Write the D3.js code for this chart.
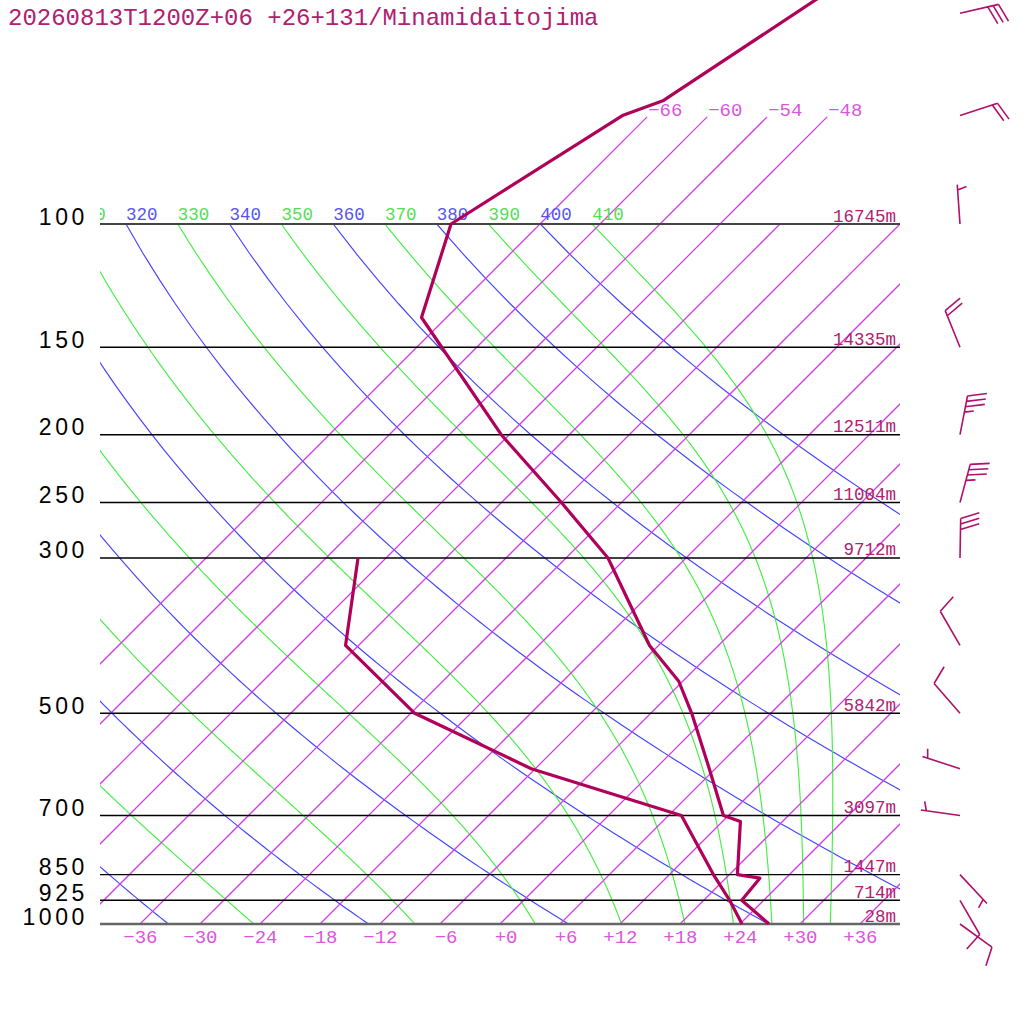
<!DOCTYPE html>
<html>
<head>
<meta charset="utf-8">
<script src="https://cdn.jsdelivr.net/npm/d3@7"></script>
<style>
  body { margin: 0; background: #fff; }
  svg { display: block; }
  text { font-family: "Liberation Mono", "DejaVu Sans Mono", monospace; }
</style>
</head>
<body>
<div id="chart"></div>
<script>
// Skew-T sounding, Minamidaitojima
var svgWidth = 1024;
var svgHeight = 1024;

var plot = { left: 100, right: 900, top: 224, bottom: 924 };

var title = "20260813T1200Z+06 +26+131/Minamidaitojima";

// mandatory levels with a horizontal line
var pressureLevels = [1000, 925, 850, 700, 500, 300, 250, 200, 150, 100];
var heightLabels = ["28m", "714m", "1447m", "3097m", "5842m", "9712m", "11004m", "12511m", "14335m", "16745m"];

// temperature profile (hPa, degC)
var tempP = [1000, 925, 860, 850, 714, 700, 600, 500, 450, 400, 300, 250, 200, 150, 136, 100, 70, 66.6, 45];
var tempT = [26.9, 21.8, 21.4, 18.8, 13.8, 11.5, 5.4, -1.9, -6.4, -12.9, -25.8, -36.0, -48.8, -63.5, -68.5, -74.9, -68.6, -66.0, -59.9];

// dewpoint profile (hPa, degC)
var dewP = [1000, 925, 850, 700, 600, 500, 400, 300];
var dewT = [24.2, 20.6, 16.4, 7.3, -12.4, -29.6, -43.3, -50.8];

// winds (hPa, deg, kt)
var windP = [1000, 925, 850, 700, 600, 500, 400, 300, 250, 200, 150, 100, 70, 50];
var windDir = [126, 150, 137, 278, 288, 319, 330, 1, 15, 11, 338, 356, 72, 77];
var windSpd = [10, 10, 5, 5, 5, 10, 10, 30, 35, 35, 20, 5, 20, 30];

// grid lines and tick labels
var isotherms = [-66, -60, -54, -48, -42, -36, -30, -24, -18, -12, -6, 0, 6, 12, 18, 24, 30, 36];
var bottomTicks = [-36, -30, -24, -18, -12, -6, 0, 6, 12, 18, 24, 30, 36];
var topIsotherms = [-66, -60, -54, -48];
var dryThetas = [240, 260, 280, 300, 320, 340, 360, 380, 400];
var moistThetas = [250, 270, 290, 310, 330, 350, 370, 390, 410];

var svg = d3.select("#chart")
  .append("svg")
  .attr("width", svgWidth)
  .attr("height", svgHeight);

// scales
var yScale = d3.scaleLog().domain([1000, 100]).range([plot.bottom, plot.top]);
var tScale = d3.scaleLinear().domain([-40, 40]).range([plot.left, plot.right]);

function skewX(t, p) {
  return tScale(t) + (yScale(1000) - yScale(p));
}

var K = 273.15;
var kappa = 0.2857;

// pseudo-adiabatic lapse rate dT/dp (K/hPa)
function moistLapse(T, p) {
  var es = 6.112 * Math.exp(17.67 * (T - K) / (T - 29.65));
  var rs = 0.622 * es / (p - es);
  var Lv = 2.501e6, Rd = 287.04, Cp = 1005.7;
  return (Rd * T + Lv * rs) / (p * (Cp + Lv * Lv * rs * 0.622 / (Rd * T * T)));
}

function moistCurve(theta) {
  var p = 100, T = theta * Math.pow(p / 1000, kappa);
  var pts = [[T - K, p]];
  var dp = 2;
  while (p < 1000) {
    var k1 = moistLapse(T, p);
    var k2 = moistLapse(T + k1 * dp / 2, p + dp / 2);
    var k3 = moistLapse(T + k2 * dp / 2, p + dp / 2);
    var k4 = moistLapse(T + k3 * dp, p + dp);
    T += dp * (k1 + 2 * k2 + 2 * k3 + k4) / 6;
    p += dp;
    pts.push([T - K, p]);
  }
  return pts;
}

function dryCurve(theta) {
  return d3.range(100, 1001, 10).map(function(p) {
    return [theta * Math.pow(p / 1000, kappa) - K, p];
  });
}

var curve = d3.line()
  .x(function(d) { return skewX(d[0], d[1]); })
  .y(function(d) { return yScale(d[1]); });

svg.append("clipPath").attr("id", "plotClip")
  .append("rect")
  .attr("x", plot.left).attr("y", plot.top)
  .attr("width", plot.right - plot.left).attr("height", plot.bottom - plot.top);

svg.append("clipPath").attr("id", "labelClip")
  .append("rect")
  .attr("x", plot.left).attr("y", 0)
  .attr("width", plot.right - plot.left).attr("height", plot.top);

var isoColor = "#d040e0";
var grid = svg.append("g")
  .attr("clip-path", "url(#plotClip)");

// dry adiabats
grid.selectAll("path.dry")
  .data(dryThetas).enter()
  .append("path")
  .attr("class", "dry")
  .attr("d", function(th) { return curve(dryCurve(th)); })
  .attr("fill", "none")
  .attr("stroke", "#4444ff")
  .attr("stroke-width", 1.15);

// moist adiabats
grid.selectAll("path.moist")
  .data(moistThetas).enter()
  .append("path")
  .attr("class", "moist")
  .attr("d", function(th) { return curve(moistCurve(th)); })
  .attr("fill", "none")
  .attr("stroke", "#44ee44")
  .attr("stroke-width", 1.15);

// isotherms
grid.selectAll("line.iso")
  .data(isotherms).enter()
  .append("line")
  .attr("class", "iso")
  .attr("x1", function(t) { return skewX(t, 1000); })
  .attr("y1", yScale(1000))
  .attr("x2", function(t) { return skewX(t, 100); })
  .attr("y2", yScale(100))
  .attr("stroke", isoColor)
  .attr("stroke-width", 1.25);

// top isotherms run above 100 hPa
svg.selectAll("line.isoTop")
  .data(topIsotherms).enter()
  .append("line")
  .attr("class", "isoTop")
  .attr("x1", function(t) { return skewX(t, 100); })
  .attr("y1", yScale(100))
  .attr("x2", function(t) { return skewX(t, 70.3); })
  .attr("y2", yScale(70.3))
  .attr("stroke", isoColor)
  .attr("stroke-width", 1.25);

svg.selectAll("text.isoTopLabel")
  .data(topIsotherms).enter()
  .append("text")
  .attr("class", "isoTopLabel")
  .attr("x", function(t) { return skewX(t, 70.3) + 1; })
  .attr("y", yScale(70.3) - 1)
  .attr("font-size", 19)
  .attr("fill", "#dd55dd")
  .text(function(t) { return d3.format("+d")(t); });

// theta labels at 100 hPa (only those that reach the plot)
var thetaLabels = dryThetas.map(function(d) { return { th: d, c: "#5555ee" }; })
  .concat(moistThetas.map(function(d) { return { th: d, c: "#55dd55" }; }))
  .filter(function(d) { return skewX(d.th * Math.pow(0.1, kappa) - K, 100) > plot.left - 30; });

svg.append("g").attr("clip-path", "url(#labelClip)")
  .selectAll("text")
  .data(thetaLabels).enter()
  .append("text")
  .attr("x", function(d) { return skewX(d.th * Math.pow(0.1, kappa) - K, 100); })
  .attr("y", plot.top - 4)
  .attr("font-size", 17.5)
  .attr("fill", function(d) { return d.c; })
  .text(function(d) { return d.th; });

// pressure lines
svg.selectAll("line.plevel")
  .data(pressureLevels).enter()
  .append("line")
  .attr("class", "plevel")
  .attr("x1", plot.left).attr("x2", plot.right)
  .attr("y1", function(p) { return yScale(p); })
  .attr("y2", function(p) { return yScale(p); })
  .attr("stroke", function(p) { return p === 1000 ? "#666" : (p === 100 ? "#444" : "#000"); })
  .attr("stroke-width", function(p) { return p === 1000 ? 2.5 : (p === 100 ? 2 : 1.4); });

// height labels
svg.selectAll("text.hlabel")
  .data(pressureLevels).enter()
  .append("text")
  .attr("class", "hlabel")
  .attr("x", 896)
  .attr("y", function(p) { return yScale(p) - 2.5; })
  .attr("text-anchor", "end")
  .attr("font-size", 17.5)
  .attr("fill", "#b0206e")
  .text(function(p, i) { return heightLabels[i]; });

// pressure axis
var leftAxis = d3.axisLeft(yScale)
  .tickValues(pressureLevels)
  .tickFormat(d3.format("d"))
  .tickSize(0);

var leftG = svg.append("g")
  .attr("transform", "translate(" + plot.left + ",0)")
  .call(leftAxis);
leftG.select(".domain").remove();
leftG.selectAll("text")
  .attr("x", -12)
  .attr("dy", 0)
  .attr("fill", "#000")
  .style("font-family", "'Liberation Sans', Arial, sans-serif")
  .style("font-size", "23px")
  .style("letter-spacing", "3.6px");

// temperature axis
var bottomAxis = d3.axisBottom(tScale)
  .tickValues(bottomTicks)
  .tickFormat(d3.format("+d"))
  .tickSize(0);

var bottomG = svg.append("g")
  .attr("transform", "translate(0," + plot.bottom + ")")
  .call(bottomAxis);
bottomG.select(".domain").remove();
bottomG.selectAll("text")
  .attr("y", 19)
  .attr("dy", 0)
  .attr("dx", 17)
  .attr("text-anchor", "end")
  .attr("fill", "#dd55dd")
  .style("font-family", "'Liberation Mono', monospace")
  .style("font-size", "19px");

// profiles
var profile = d3.line()
  .x(function(d) { return skewX(d[1], d[0]); })
  .y(function(d) { return yScale(d[0]); });

svg.append("path")
  .datum(dewP.map(function(p, i) { return [p, dewT[i]]; }))
  .attr("d", profile)
  .attr("fill", "none")
  .attr("stroke", "#b0005a")
  .attr("stroke-width", 3.2)
  .attr("stroke-linejoin", "round");

svg.append("path")
  .datum(tempP.map(function(p, i) { return [p, tempT[i]]; }))
  .attr("d", profile)
  .attr("fill", "none")
  .attr("stroke", "#b0005a")
  .attr("stroke-width", 3.2)
  .attr("stroke-linejoin", "round");

// wind barbs
var barbX = 960;
var staffLen = 39.5, barbSpacing = 5.5, fullLen = 19.5, halfLen = 9.5;
var barbAngle = 72 * Math.PI / 180;
var barbs = svg.append("g");

windP.forEach(function(p, i) {
  var x0 = barbX, y0 = yScale(p);
  var rad = windDir[i] * Math.PI / 180;
  var ux = Math.sin(rad), uy = -Math.cos(rad);
  var tx = x0 + ux * staffLen, ty = y0 + uy * staffLen;
  var bx = ux * Math.cos(barbAngle) - uy * Math.sin(barbAngle);
  var by = ux * Math.sin(barbAngle) + uy * Math.cos(barbAngle);
  var d = "M" + x0 + "," + y0 + "L" + tx + "," + ty;
  var full = Math.floor(windSpd[i] / 10);
  var half = (windSpd[i] % 10) >= 5 ? 1 : 0;
  var k = full === 0 ? 1 : 0;
  function tick(len) {
    var sx = tx - ux * barbSpacing * k, sy = ty - uy * barbSpacing * k;
    d += "M" + sx + "," + sy + "L" + (sx + bx * len) + "," + (sy + by * len);
    k++;
  }
  for (var f = 0; f < full; f++) tick(fullLen);
  if (half) tick(halfLen);
  barbs.append("path")
    .attr("d", d)
    .attr("fill", "none")
    .attr("stroke", "#b0106a")
    .attr("stroke-width", 1.6);
});

// title
svg.append("text")
  .attr("x", 8)
  .attr("y", 25)
  .attr("font-size", 24)
  .attr("fill", "#b0206e")
  .text(title);
</script>
</body>
</html>
